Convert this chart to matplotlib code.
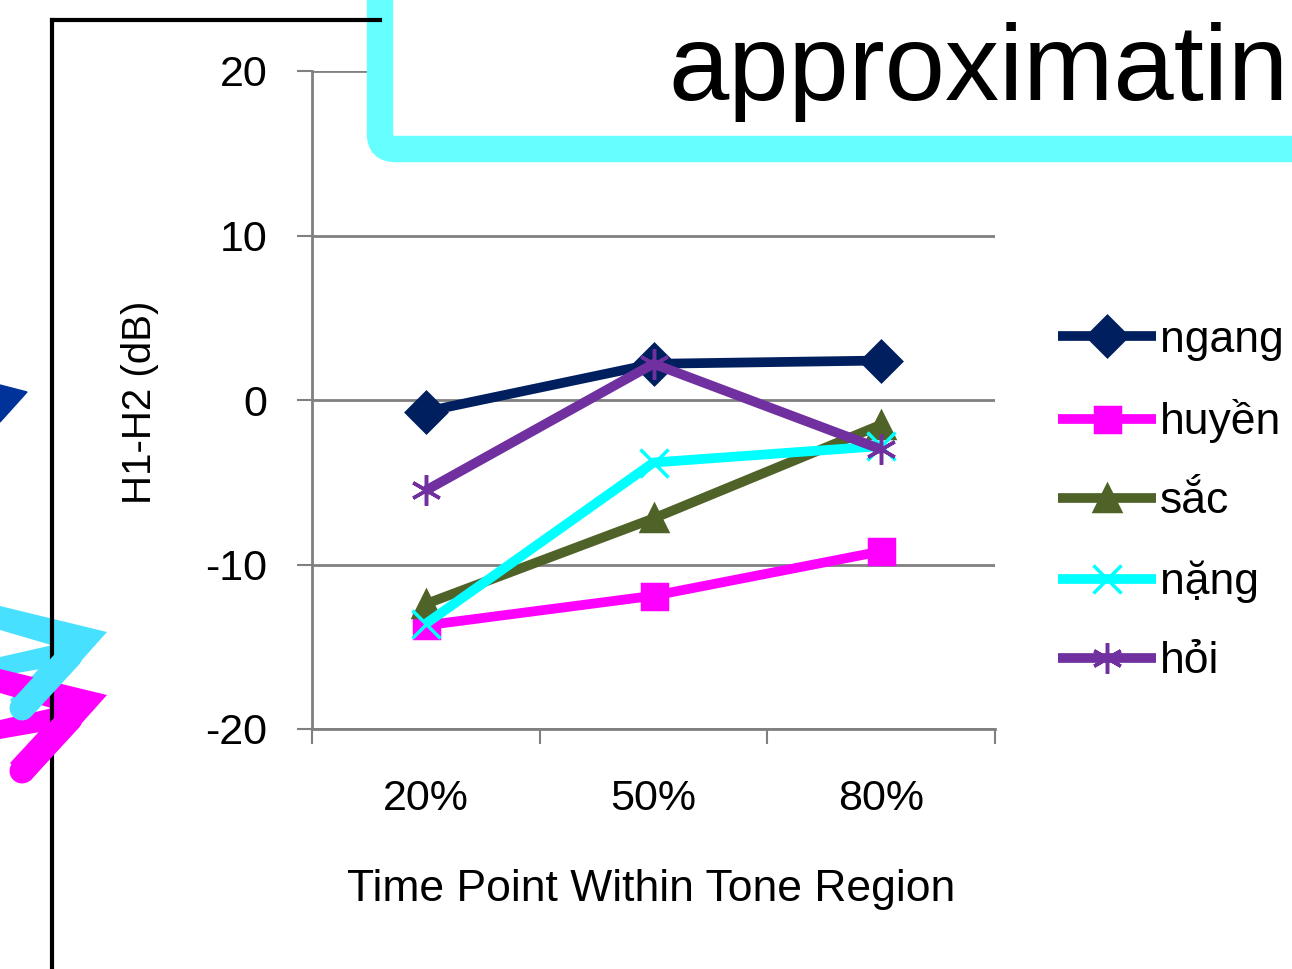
import numpy as np
import matplotlib
matplotlib.use("Agg")
import matplotlib.pyplot as plt
from matplotlib.patches import Polygon, FancyBboxPatch

plt.rcParams['font.family'] = ['Liberation Sans', 'DejaVu Sans']

# data
time_points = ['20%', '50%', '80%']
tones = ['ngang', 'huyền', 'sắc', 'nặng', 'hỏi']
ngang = [-0.7, 2.2, 2.4]
huyen = [-13.7, -11.9, -9.2]
sac = [-12.4, -7.2, -1.5]
nang = [-13.6, -3.8, -2.8]
hoi = [-5.5, 2.2, -3.0]
y_ticks = [-20, -10, 0, 10, 20]

series = [ngang, huyen, sac, nang, hoi]
colors = ['#001f5f', '#ff00ff', '#4f6228', '#00ffff', '#7030a0']
markers = ['D', 's', '^', 'x', (6, 2, 0)]
msizes = [20, 18, 19, 20, 22]

W, H = 1292, 969
fig = plt.figure(figsize=(W / 100, H / 100), dpi=100)

# chart
ax = fig.add_axes([312 / W, (H - 729) / H, 683 / W, 658 / H], zorder=1)
x = np.arange(len(time_points))
for vals, tone, c, m, ms in zip(series, tones, colors, markers, msizes):
    ax.plot(x, vals, color=c, lw=7, marker=m, ms=ms, mew=2.5, mfc=c, mec=c,
            label=tone, solid_capstyle='butt')

ax.set_xlim(-0.5, 2.5)
ax.set_ylim(-20, 20)
ax.set_yticks(y_ticks)
ax.set_yticklabels([str(v) for v in y_ticks])
ax.set_xticks([-0.5, 0.5, 1.5, 2.5])
ax.set_xticklabels([])
ax.set_xticks(x, minor=True)
ax.set_xticklabels(time_points, minor=True)
ax.tick_params(axis='x', which='minor', length=0, pad=36, labelsize=31)
ax.tick_params(axis='x', which='major', length=11, width=1.5, color='#808080', direction='out')
ax.tick_params(axis='y', length=11, width=1.5, color='#808080', pad=21, labelsize=31)
ax.grid(axis='y', color='#808080', lw=2)
ax.set_axisbelow(True)
for s in ['top', 'right']:
    ax.spines[s].set_visible(False)
for s in ['left', 'bottom']:
    ax.spines[s].set_color('#808080')
    ax.spines[s].set_linewidth(2)
ax.set_xlabel('Time Point Within Tone Region', fontsize=32)
ax.xaxis.set_label_coords(0.496, -0.213)
fig.text(140 / W, 1 - 402 / H, 'H1-H2 (dB)', rotation=90, fontsize=29, ha='center', va='center')

ax.legend(loc='upper left', bbox_to_anchor=(1058 / W, 1 - 320 / H), bbox_transform=fig.transFigure,
          frameon=False, fontsize=32, handlelength=2.2, handletextpad=0.1, labelspacing=0.86,
          borderpad=0, borderaxespad=0)

# slide decorations drawn in pixel space, on top of the chart
deco = fig.add_axes([0, 0, 1, 1], zorder=2)
deco.patch.set_alpha(0)
deco.set_xlim(0, W)
deco.set_ylim(H, 0)
deco.axis('off')
deco.plot([52, 52], [20, H + 5], color='black', lw=3)
deco.plot([52, 380], [20, 20], color='black', lw=3)
deco.add_patch(Polygon([(0, 385), (27, 392), (0, 422)], closed=True, color='#003399'))
for col, dy in [('#47e1ff', 0), ('#ff00ff', 63)]:
    deco.add_patch(Polygon([(0, 606 + dy), (107, 632 + dy), (75, 652 + dy), (0, 630 + dy)],
                           closed=True, color=col, lw=0))
    deco.add_patch(Polygon([(0, 657 + dy), (75, 640 + dy), (80, 662 + dy), (0, 676 + dy)],
                           closed=True, color=col, lw=0))
    deco.add_patch(Polygon([(107, 632 + dy), (60, 646 + dy), (10, 700 + dy), (30, 718 + dy)],
                           closed=True, color=col, lw=0))
    deco.plot([22, 70], [708 + dy, 656 + dy], color=col, lw=18, solid_capstyle='round')
deco.add_patch(FancyBboxPatch((380, -200), 1100, 349, boxstyle='round,pad=0,rounding_size=15',
                              facecolor='white', edgecolor='#66ffff', lw=19))
deco.text(668, 100, 'approximating', fontsize=78, va='baseline', ha='left', color='black')

fig.savefig('out.png', dpi=100)
